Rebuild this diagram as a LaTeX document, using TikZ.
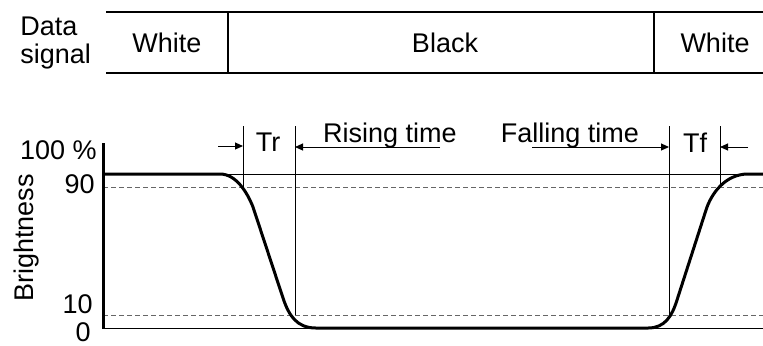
\documentclass[tikz,border=0pt]{standalone}
\usepackage{fontspec}
\setmainfont{Liberation Sans}
\usetikzlibrary{arrows.meta}

\begin{document}
\begin{tikzpicture}[x=0.5pt,y=-0.5pt,
    lbl/.style={font=\fontsize{13.5}{14}\selectfont,inner sep=0pt},
    sigline/.style={line width=1.25pt},
    thinline/.style={line width=0.5pt},
    dashline/.style={line width=0.5pt,black!60,dash pattern=on 2.5pt off 1.5pt},
    bright/.style={line width=1.5pt,line join=round},
    dim/.style={line width=0.5pt,-{Triangle[length=4pt,width=3.5pt]}}]
    \useasboundingbox (0,0) rectangle (763,345);
    % data signal
    \node[lbl,align=left,anchor=west] (datasig) at (20,43) {Data\\signal};
    \draw[sigline] (106,12) -- (763,12);
    \draw[sigline] (106,73) -- (763,73);
    \draw[sigline] (228,12) -- (228,73);
    \draw[sigline] (654,12) -- (654,73);
    \node[lbl,anchor=base] (whiteA) at (167,52) {White};
    \node[lbl,anchor=base] (black) at (445,52) {Black};
    \node[lbl,anchor=base] (whiteB) at (715,52) {White};
    % brightness axis
    \node[lbl,rotate=90,anchor=base] (bright) at (33,238) {Brightness};
    \node[lbl,anchor=base east] (full) at (97,159) {100 \%};
    \node[lbl,anchor=base east] (ninety) at (95,193) {90};
    \node[lbl,anchor=base east] (ten) at (93,313) {10};
    \node[lbl,anchor=base east] (zero) at (91,341) {0};
    \draw[thinline] (103,174) -- (763,174);
    \draw[thinline] (103,328) -- (763,328);
    \draw[dashline] (103,187) -- (763,187);
    \draw[dashline] (103,315) -- (763,315);
    \draw[line width=1.5pt] (103,143) -- (103,329);
    % response curve
    \draw[bright] (103,174) -- (220,174) .. controls (236,174) and (247,192) .. (253,207)
        -- (283,298) .. controls (289,316) and (297,328) .. (316,328)
        -- (648,328) .. controls (665,328) and (672,316) .. (677,300)
        -- (706,210) .. controls (711,194) and (725,174) .. (748,174) -- (763,174);
    % markers
    \coordinate (trL) at (243,146);
    \coordinate (trR) at (295,147);
    \coordinate (tfL) at (669,147);
    \coordinate (tfR) at (720,147);
    \draw[thinline] (243,126) -- (243,187);
    \draw[thinline] (295,126) -- (295,315);
    \draw[thinline] (669,126) -- (669,315);
    \draw[thinline] (720,126) -- (720,187);
    \coordinate (trin) at (218,146);
    \coordinate (rise) at (440,147);
    \coordinate (fall) at (532,147);
    \coordinate (tfin) at (748,147);
    \draw[dim] (trin) -- (trL);
    \draw[dim] (rise) -- (trR);
    \draw[dim] (fall) -- (tfL);
    \draw[dim] (tfin) -- (tfR);
    \node[lbl,anchor=base] (tr) at (268,151) {Tr};
    \node[lbl,anchor=base] (tf) at (695,152) {Tf};
    \node[lbl,anchor=base] (risetxt) at (390,142) {Rising time};
    \node[lbl,anchor=base] (falltxt) at (570,142) {Falling time};
\end{tikzpicture}
\end{document}
